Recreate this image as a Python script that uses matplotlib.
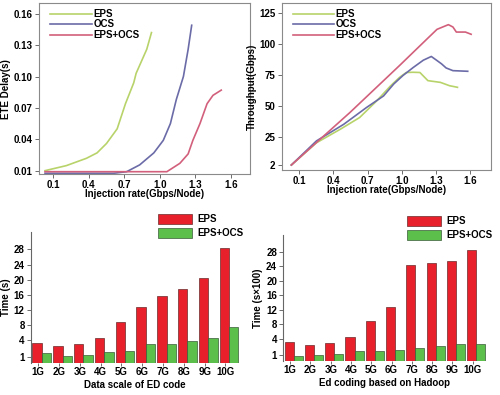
import numpy as np
import matplotlib
matplotlib.use("Agg")
import matplotlib.pyplot as plt

plt.rcParams["font.family"] = ["Liberation Sans", "DejaVu Sans"]
plt.rcParams["font.weight"] = "bold"
plt.rcParams["axes.labelweight"] = "bold"

# ---- top-left: ETE delay ----
eps_delay_x = [0.03, 0.21, 0.38, 0.47, 0.55, 0.64, 0.71, 0.78, 0.80, 0.89, 0.93]
eps_delay_y = [0.010, 0.0148, 0.0218, 0.027, 0.036, 0.050, 0.074, 0.094, 0.103, 0.126, 0.142]
ocs_delay_x = [0.03, 0.61, 0.72, 0.83, 0.95, 1.03, 1.09, 1.14, 1.20, 1.24, 1.27]
ocs_delay_y = [0.0075, 0.0075, 0.009, 0.0155, 0.027, 0.039, 0.055, 0.078, 0.100, 0.126, 0.149]
hyb_delay_x = [0.03, 1.06, 1.17, 1.24, 1.28, 1.34, 1.40, 1.45, 1.52]
hyb_delay_y = [0.009, 0.009, 0.017, 0.026, 0.039, 0.055, 0.074, 0.082, 0.087]

# ---- top-right: throughput ----
eps_thr_x = [0.03, 0.25, 0.46, 0.63, 0.78, 0.90, 0.98, 1.04, 1.10, 1.16, 1.23, 1.34, 1.42, 1.49]
eps_thr_y = [2, 20, 31, 40.5, 54, 66, 73, 77, 77.2, 77, 70.4, 69, 66.3, 65]
ocs_thr_x = [0.03, 0.25, 0.49, 0.69, 0.84, 0.93, 1.01, 1.10, 1.19, 1.26, 1.31, 1.35, 1.39, 1.45, 1.58]
ocs_thr_y = [2, 21.5, 35, 48.6, 58, 67.7, 74.5, 81, 87, 90, 86.7, 84, 80.7, 78.5, 78]
hyb_thr_x = [0.03, 0.545, 0.98, 1.22, 1.31, 1.41, 1.45, 1.48, 1.56, 1.61]
hyb_thr_y = [2, 44.6, 82.6, 104, 112, 115.8, 113.9, 109.8, 109.8, 108]

inj_ticks = [0.1, 0.4, 0.7, 1.0, 1.3, 1.6]

# ---- bottom: bar charts ----
scales = ["1G", "2G", "3G", "4G", "5G", "6G", "7G", "8G", "9G", "10G"]
ed_eps = [3.5, 3.0, 3.3, 4.7, 8.9, 12.8, 15.7, 17.6, 20.4, 28.4]
ed_hyb = [1.7, 1.2, 1.35, 1.9, 2.2, 3.3, 3.3, 3.9, 4.5, 7.4]
hd_eps = [3.4, 2.9, 3.2, 4.6, 8.9, 12.8, 24.4, 25.0, 25.4, 28.6]
hd_hyb = [0.9, 1.05, 1.25, 1.75, 1.75, 2.0, 2.4, 2.75, 3.05, 3.05]
time_ticks = [1, 4, 8, 12, 16, 20, 24, 28]

c_eps_line = "#b8d36a"
c_ocs_line = "#6b6ba8"
c_hyb_line = "#d2607c"
c_red = "#e8202c"
c_green = "#5cbf4c"

fs = 7

fig = plt.figure(figsize=(5, 3.95), dpi=100)


def bold_ticks(ax):
    for t in ax.get_xticklabels() + ax.get_yticklabels():
        t.set_fontweight("bold")


def style_top(ax):
    for s in ax.spines.values():
        s.set_color("#8a8a8a")
        s.set_linewidth(0.8)
    ax.tick_params(length=3, width=0.6, color="#555555", labelsize=fs, pad=1.5)
    bold_ticks(ax)


ax1 = fig.add_axes([0.078, 0.5595, 0.422, 0.4322])
ax1.plot(eps_delay_x, eps_delay_y, color=c_eps_line, lw=1.2, label="EPS")
ax1.plot(ocs_delay_x, ocs_delay_y, color=c_ocs_line, lw=1.2, label="OCS")
ax1.plot(hyb_delay_x, hyb_delay_y, color=c_hyb_line, lw=1.2, label="EPS+OCS")
ax1.set_xlim(-0.021, 1.763)
ax1.set_ylim(0.0068, 0.170)
ax1.set_xticks(inj_ticks)
ax1.set_yticks([0.01, 0.04, 0.07, 0.10, 0.13, 0.16])
ax1.set_yticklabels(["0.01", "0.04", "0.07", "0.10", "0.13", "0.16"])
ax1.set_xlabel("Injection rate(Gbps/Node)", fontsize=fs, labelpad=-1)
ax1.set_ylabel("ETE Delay(s)", fontsize=fs, labelpad=2)
style_top(ax1)
ax1.legend(loc="upper left", bbox_to_anchor=(50 / 500, 1 - 9 / 395),
           bbox_transform=fig.transFigure, frameon=False,
           prop={"size": fs, "weight": "bold"},
           handlelength=4.3, handletextpad=0.2, labelspacing=0.05,
           borderpad=0, borderaxespad=0)

ax2 = fig.add_axes([0.5634, 0.5696, 0.418, 0.422])
ax2.plot(eps_thr_x, eps_thr_y, color=c_eps_line, lw=1.2, label="EPS")
ax2.plot(ocs_thr_x, ocs_thr_y, color=c_ocs_line, lw=1.2, label="OCS")
ax2.plot(hyb_thr_x, hyb_thr_y, color=c_hyb_line, lw=1.2, label="EPS+OCS")
ax2.set_xlim(-0.055, 1.782)
ax2.set_ylim(-2.05, 133.1)
ax2.set_xticks(inj_ticks)
ax2.set_yticks([2, 25, 50, 75, 100, 125])
ax2.set_xlabel("Injection rate(Gbps/Node)", fontsize=fs, labelpad=-1)
ax2.set_ylabel("Throughput(Gbps)", fontsize=fs, labelpad=2)
style_top(ax2)
ax2.legend(loc="upper left", bbox_to_anchor=(293 / 500, 1 - 9 / 395),
           bbox_transform=fig.transFigure, frameon=False,
           prop={"size": fs, "weight": "bold"},
           handlelength=4.2, handletextpad=0.2, labelspacing=0.05,
           borderpad=0, borderaxespad=0)


def fwd(v):
    v = np.asarray(v, dtype=float)
    return np.where(v <= 4, 1.5 * v, v + 2)


def inv(u):
    u = np.asarray(u, dtype=float)
    return np.where(u <= 6, u / 1.5, u - 2)


def bar_panel(rect, eps, hyb, xlabel, ylabel, leg_xy):
    ax = fig.add_axes(rect)
    x = np.arange(len(scales))
    w = 0.45
    ax.bar(x, eps, w, color=c_red, edgecolor="#6a2a2a", linewidth=0.5, label="EPS")
    ax.bar(x + w, hyb, w, color=c_green, edgecolor="#3a5a3a", linewidth=0.5, label="EPS+OCS")
    ax.set_yscale("function", functions=(fwd, inv))
    ax.set_ylim(0, 32.6)
    ax.set_xlim(-0.29, 9.7)
    ax.set_yticks(time_ticks)
    ax.set_yticklabels([str(t) for t in time_ticks])
    ax.minorticks_off()
    ax.set_xticks(x + 0.05)
    ax.set_xticklabels(scales)
    for s in ["top", "right", "bottom"]:
        ax.spines[s].set_visible(False)
    ax.spines["left"].set_color("#666666")
    ax.spines["left"].set_linewidth(0.8)
    ax.tick_params(axis="y", length=3, width=0.6, color="#555555", labelsize=7, pad=1.5)
    ax.tick_params(axis="x", length=2, width=0.6, color="#555555", labelsize=7, pad=1)
    bold_ticks(ax)
    ax.set_xlabel(xlabel, fontsize=7, labelpad=2)
    ax.set_ylabel(ylabel, fontsize=7, labelpad=2)
    ax.legend(loc="upper left", bbox_to_anchor=leg_xy, bbox_transform=fig.transFigure,
              frameon=False, prop={"size": fs, "weight": "bold"},
              handlelength=3.5, handleheight=1.25,
              handletextpad=0.6, labelspacing=0.35, borderpad=0, borderaxespad=0)
    return ax


bar_panel([0.062, 0.081, 0.416, 0.3316], ed_eps, ed_hyb,
          "Data scale of ED code", "Time (s)", (158 / 500, 1 - 214 / 395))
bar_panel([0.5666, 0.0868, 0.405, 0.318], hd_eps, hd_hyb,
          "Ed coding based on Hadoop", "Time (s×100)", (406.7 / 500, 1 - 216 / 395))

fig.savefig("out.png", dpi=100)
